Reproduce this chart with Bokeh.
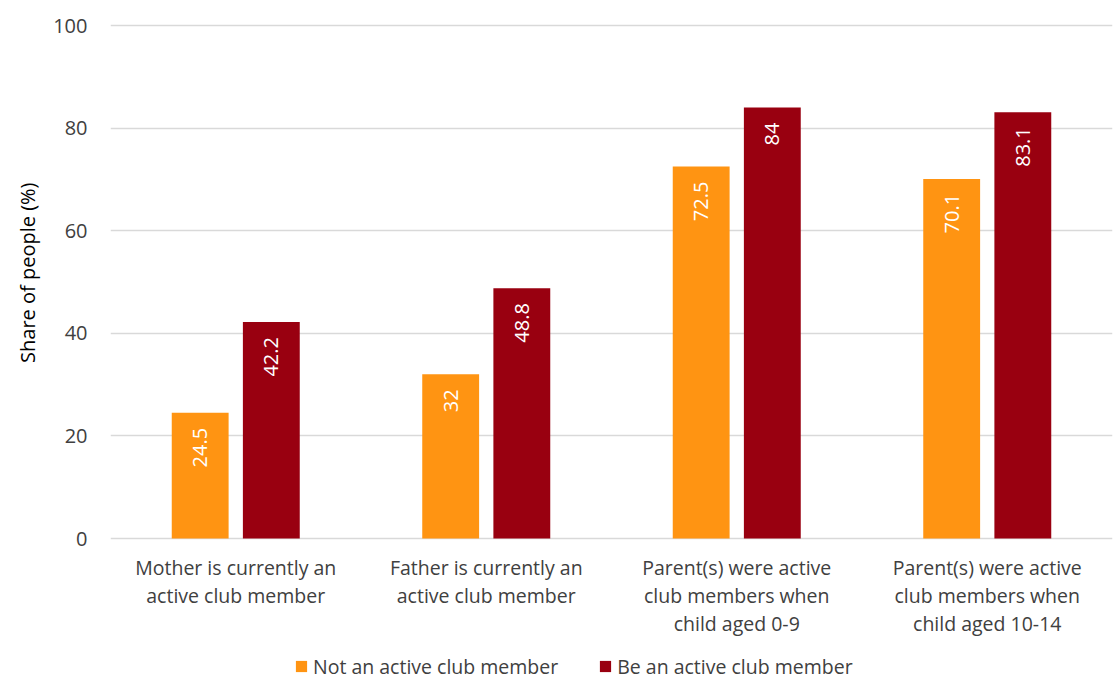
import math
from bokeh.plotting import figure
from bokeh.models import (FactorRange, Range1d, Legend, LegendItem,
                          ColumnDataSource, FixedTicker, Title)
from bokeh.transform import dodge
from bokeh.embed import file_html
from bokeh.resources import INLINE
from bokeh.core.properties import value

# Data
categories = [
    "Mother is currently an\nactive club member",
    "Father is currently an\nactive club member",
    "Parent(s) were active\nclub members when\nchild aged 0-9",
    "Parent(s) were active\nclub members when\nchild aged 10-14",
]
not_active = [24.5, 32, 72.5, 70.1]
active = [42.2, 48.8, 84, 83.1]
series_names = ["Not an active club member", "Be an active club member"]
y_ticks = [0, 20, 40, 60, 80, 100]
y_title = "Share of people (%)"

ORANGE = "#FF9412"
RED = "#990010"
FONT = "Open Sans"
TEXT = "#404040"

src = ColumnDataSource(dict(
    cat=categories,
    not_active=not_active,
    active=active,
    lab_not=[f"{v:g}" for v in not_active],
    lab_act=[f"{v:g}" for v in active],
))

# The plotting frame runs down to the bottom edge so that the legend can sit
# under the category labels; the value axis itself only spans 0-100.
p = figure(width=1113, height=680, x_range=FactorRange(*categories),
           y_range=Range1d(-27.68, 100.39), output_backend="svg",
           toolbar_location=None, min_border_left=110, min_border_right=1,
           min_border_top=23, min_border_bottom=0)
p.outline_line_color = None
p.background_fill_color = "white"
p.border_fill_color = "white"

OFF = 0.142
BW = 0.227
r1 = p.vbar(x=dodge("cat", -OFF, range=p.x_range), top="not_active", width=BW,
            source=src, fill_color=ORANGE, line_color=None)
r2 = p.vbar(x=dodge("cat", OFF, range=p.x_range), top="active", width=BW,
            source=src, fill_color=RED, line_color=None)

# Value labels written upwards inside the top of each bar
for off, col, lab in ((-OFF, "not_active", "lab_not"), (OFF, "active", "lab_act")):
    p.text(x=dodge("cat", off, range=p.x_range), y=col, text=lab,
           source=src, angle=math.pi / 2, text_align="right",
           text_baseline="middle", y_offset=15, text_color="white",
           text_font=value(FONT), text_font_size="20px")

# Axes
p.yaxis.ticker = FixedTicker(ticks=y_ticks)
p.yaxis.bounds = (0, 100)
for ax in (p.xaxis, p.yaxis):
    ax.axis_line_color = None
    ax.major_tick_line_color = None
    ax.minor_tick_line_color = None
    ax.major_label_text_font = FONT
    ax.major_label_text_color = TEXT
p.yaxis.major_label_text_font_size = "20px"
p.yaxis.major_label_standoff = 17
p.xaxis.fixed_location = 0
p.xaxis.major_label_text_font_size = "19.5px"
p.xaxis.major_label_text_line_height = 1.05
p.xaxis.major_label_standoff = 9

# Value-axis title, centred on the 0-100 span rather than the whole frame
p.add_layout(Title(text=y_title, align="right", offset=159, standoff=20,
                   text_font=FONT, text_font_size="20px",
                   text_font_style="normal", text_color="#000000"), "left")

p.xgrid.grid_line_color = None
p.ygrid.grid_line_color = "#D9D9D9"
p.ygrid.grid_line_width = 1.5
p.ygrid.ticker = FixedTicker(ticks=y_ticks)

legend = Legend(items=[LegendItem(label=series_names[0], renderers=[r1]),
                       LegendItem(label=series_names[1], renderers=[r2])],
                orientation="horizontal", location=(184, 0.5))
legend.padding = 0
legend.margin = 0
legend.spacing = 40
legend.glyph_width = 14
legend.glyph_height = 14
legend.label_standoff = 5
legend.label_text_font = FONT
legend.label_text_font_size = "19.5px"
legend.label_text_color = TEXT
legend.border_line_color = None
legend.background_fill_alpha = 0
p.add_layout(legend, "center")

open("out.html", "w").write(file_html(p, INLINE))
